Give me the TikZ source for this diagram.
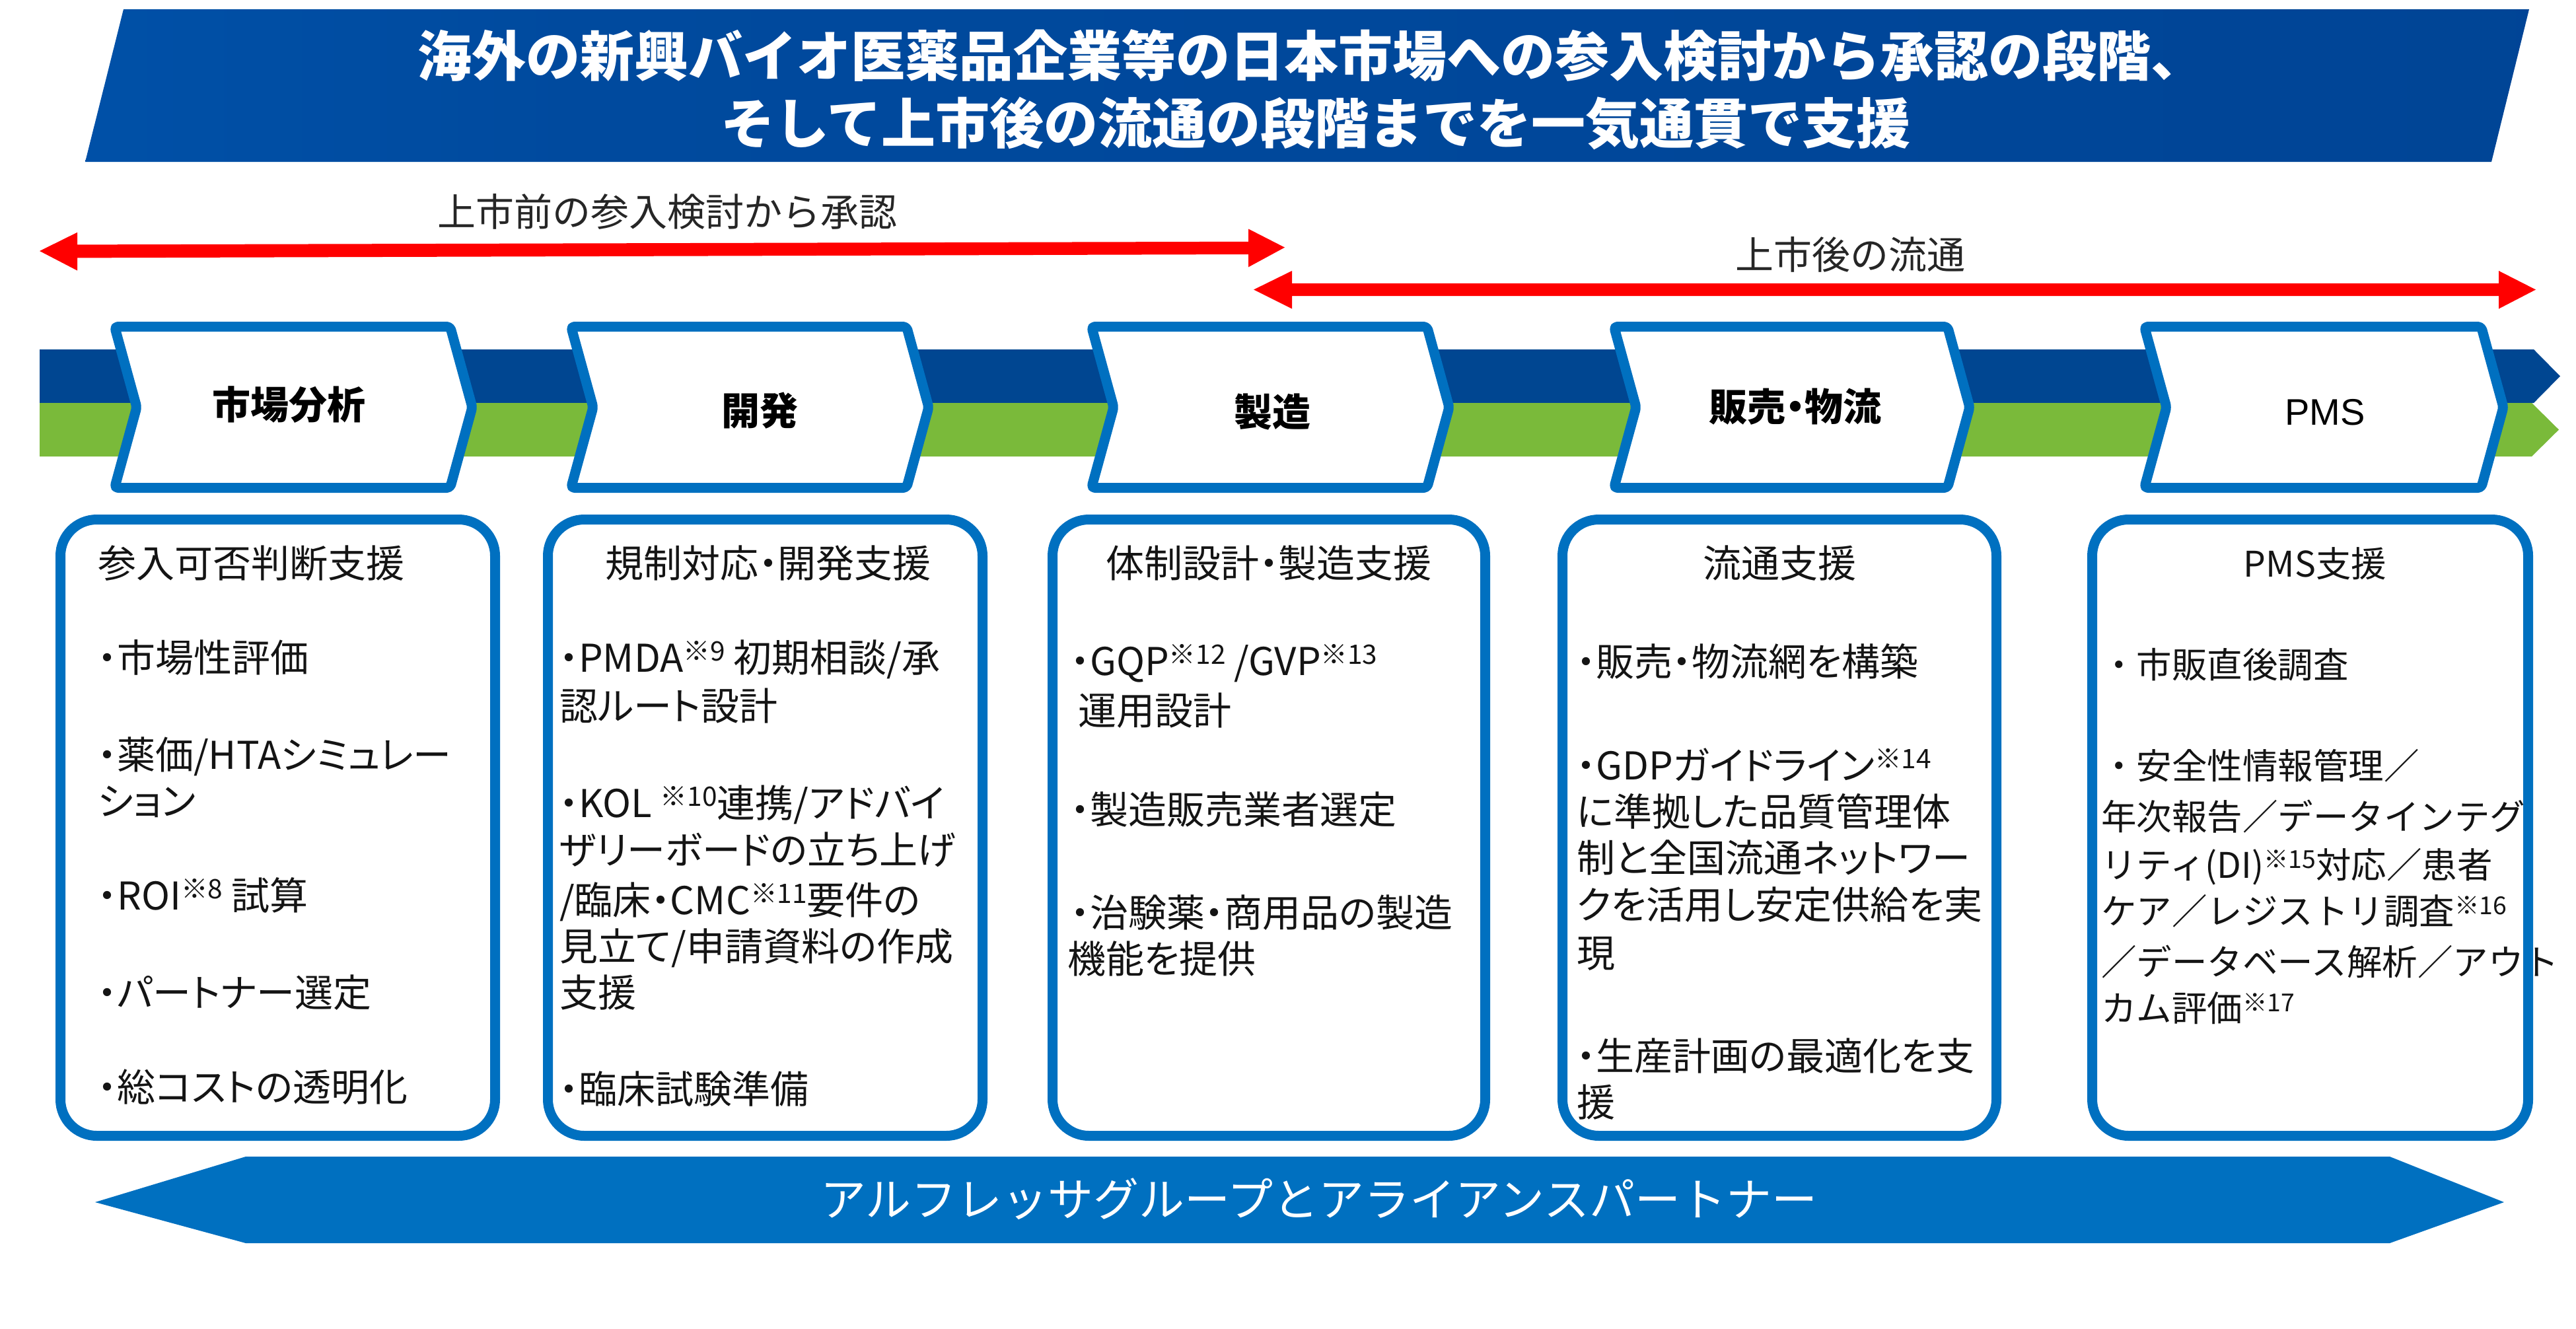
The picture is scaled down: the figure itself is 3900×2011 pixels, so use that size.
\documentclass[tikz,border=0pt]{standalone}
\usepackage{fontspec}
\setmainfont{Noto Sans CJK JP}
\newfontfamily\jpp[RawFeature=+palt]{Noto Sans CJK JP}
\newfontfamily\jpm{Noto Sans CJK JP}
\newfontfamily\arialf{Liberation Sans}
\definecolor{mblue}{RGB}{0,112,192}
\definecolor{dblue}{RGB}{0,70,145}
\definecolor{mgreen}{RGB}{122,186,58}
\definecolor{tl}{RGB}{0,96,190}
\definecolor{tm}{RGB}{0,74,158}
\definecolor{tr}{RGB}{0,65,145}
\definecolor{txt}{RGB}{20,20,20}
\definecolor{lbl}{RGB}{38,38,38}
\definecolor{rred}{RGB}{255,0,0}
\pgfdeclarehorizontalshading{ttlshade}{100bp}{color(0bp)=(tl); color(35bp)=(tm); color(100bp)=(tr)}
\newcommand\bxfont{\jpp\fontsize{58}{70}\selectfont}
\newcommand\pmsfont{\jpm\fontsize{53.5}{70}\selectfont}
\newcommand\kome[1]{\raisebox{0.28em}{\scalebox{0.7}{※#1}}}
\newcommand\chevbox[2]{\draw[chev] (#1+7.5,494.5) -- (#2-7.5,494.5) -- (#2+26,616.5) -- (#2-7.5,738.5) -- (#1+7.5,738.5) -- (#1+41,616.5) -- cycle;}
\tikzset{
  chev/.style={draw=mblue, line width=15pt, fill=white, rounded corners=5pt, line join=round},
  rbox/.style={draw=mblue, line width=15pt, fill=white, rounded corners=55pt},
  bt/.style={anchor=base west, inner sep=0pt, font=\bxfont, text=txt},
  btc/.style={anchor=base, inner sep=0pt, font=\bxfont, text=txt},
  pt/.style={anchor=base west, inner sep=0pt, font=\pmsfont, text=txt},
  chl/.style={anchor=base, inner sep=0pt, font=\jpp\bfseries\fontsize{58}{60}\selectfont, text=black},
  arl/.style={anchor=base, inner sep=0pt, font=\jpm\fontsize{58}{60}\selectfont, text=lbl},
  ttl/.style={anchor=base, inner sep=0pt, font=\jpm\bfseries\fontsize{82}{90}\selectfont, text=white},
}
\begin{document}
\begin{tikzpicture}[x=1pt,y=-1pt]
\useasboundingbox (0,0) rectangle (3900,2011);
% title banner
\shade[shading=ttlshade] (187,14) -- (3829,14) -- (3772,245) -- (129,245) -- cycle;
\node[ttl] (t1) at (1985,115) {海外の新興バイオ医薬品企業等の日本市場への参入検討から承認の段階、};
\node[ttl] (t2) at (1992,217) {そして上市後の流通の段階までを一気通貫で支援};
% red arrows
\fill[rred] (60,380) -- (117,351.8) -- (117,370.4) -- (1890,365.8) -- (1890,346.5) -- (1945,374.6) -- (1890,404.4) -- (1890,385) -- (117,390.4) -- (117,409.6) -- cycle;
\node[arl] (a1) at (1010,342) {上市前の参入検討から承認};
\fill[rred] (1898,438.5) -- (1956,410) -- (1956,429) -- (3783,429) -- (3783,410) -- (3839,438.5) -- (3783,467.5) -- (3783,448) -- (1956,448) -- (1956,467.5) -- cycle;
\node[arl] (a2) at (2801,407) {上市後の流通};
% bands
\fill[dblue] (60,529) -- (3836,529) -- (3876,569.5) -- (3836,610) -- (60,610) -- cycle;
\fill[mgreen] (60,610) -- (3833,610) -- (3874,650.5) -- (3833,691) -- (60,691) -- cycle;
% chevrons
\chevbox{166}{689}
\chevbox{857}{1380}
\chevbox{1645}{2168}
\chevbox{2436}{2956}
\chevbox{3239}{3764}
\node[chl] (c1) at (437,634) {市場分析};
\node[chl] (c2) at (1150,643) {開発};
\node[chl] (c3) at (1926,645) {製造};
\node[chl] (c4) at (2718,637) {販売・物流};
\node[anchor=base, inner sep=0pt, font=\arialf\fontsize{56}{60}\selectfont, text=black] (c5) at (3520,643) {PMS};
% lower boxes
\draw[rbox] (91.5,786.5) rectangle (749.5,1719.5);
\draw[rbox] (829.5,786.5) rectangle (1487.5,1719.5);
\draw[rbox] (1593.5,786.5) rectangle (2248.5,1719.5);
\draw[rbox] (2365.5,786.5) rectangle (3022.5,1719.5);
\draw[rbox] (3167.5,786.5) rectangle (3827.5,1719.5);
% box 1
\node[bt] (b1a) at (148,874) {参入可否判断支援};
\node[bt] (b1b) at (148,1017) {・市場性評価};
\node[bt] (b1c) at (148,1164) {・薬価/HTAシミュレー};
\node[bt] (b1d) at (148,1234) {ション};
\node[bt] (b1e) at (148,1377) {・ROI\kome{8} 試算};
\node[bt] (b1f) at (148,1524) {・パートナー選定};
\node[bt] (b1g) at (148,1667) {・総コストの透明化};
% box 2
\node[btc] (b2a) at (1163,874) {規制対応・開発支援};
\node[bt] (b2b) at (847,1017) {・PMDA\kome{9} 初期相談/承};
\node[bt] (b2c) at (847,1090) {認ルート設計};
\node[bt] (b2d) at (847,1237) {・KOL \kome{10}連携/アドバイ};
\node[bt] (b2e) at (847,1308) {ザリーボードの立ち上げ};
\node[bt] (b2f) at (847,1384) {/臨床・CMC\kome{11}要件の};
\node[bt] (b2g) at (847,1454) {見立て/申請資料の作成};
\node[bt] (b2h) at (847,1524) {支援};
\node[bt] (b2i) at (847,1670) {・臨床試験準備};
% box 3
\node[btc] (b3a) at (1921,874) {体制設計・製造支援};
\node[bt] (b3b) at (1621,1022) {・GQP\kome{12} /GVP\kome{13}};
\node[bt] (b3c) at (1632,1097) {運用設計};
\node[bt] (b3d) at (1621,1247) {・製造販売業者選定};
\node[bt] (b3e) at (1621,1403) {・治験薬・商用品の製造};
\node[bt] (b3f) at (1616,1473) {機能を提供};
% box 4
\node[btc] (b4a) at (2694,874) {流通支援};
\node[bt] (b4b) at (2387,1023) {・販売・物流網を構築};
\node[bt] (b4c) at (2387,1180) {・GDPガイドライン\kome{14}};
\node[bt] (b4d) at (2387,1250) {に準拠した品質管理体};
\node[bt] (b4e) at (2387,1320) {制と全国流通ネットワー};
\node[bt] (b4f) at (2387,1391) {クを活用し安定供給を実};
\node[bt] (b4g) at (2387,1464) {現};
\node[bt] (b4h) at (2387,1620) {・生産計画の最適化を支};
\node[bt] (b4i) at (2387,1690) {援};
% box 5
\node[anchor=base, inner sep=0pt, font=\pmsfont, text=txt] (b5a) at (3505,873) {PMS支援};
\node[pt] (b5b) at (3181,1026) {・市販直後調査};
\node[pt] (b5c) at (3181,1179) {・安全性情報管理／};
\node[pt] (b5d) at (3181,1256) {年次報告／データインテグ};
\node[pt] (b5e) at (3181,1329) {リティ(DI)\kome{15}対応／患者};
\node[pt] (b5f) at (3181,1399) {ケア／レジストリ調査\kome{16}};
\node[pt] (b5g) at (3181,1476) {／データベース解析／アウト};
\node[pt] (b5h) at (3181,1546) {カム評価\kome{17}};
% bottom banner
\fill[mblue] (144,1820) -- (372,1751) -- (3618,1751) -- (3791,1820) -- (3618,1882) -- (372,1882) -- cycle;
\node[anchor=base, inner sep=0pt, font=\jpm\fontsize{69}{70}\selectfont, text=white] (ban) at (1997,1841) {アルフレッサグループとアライアンスパートナー};
\end{tikzpicture}
\end{document}
